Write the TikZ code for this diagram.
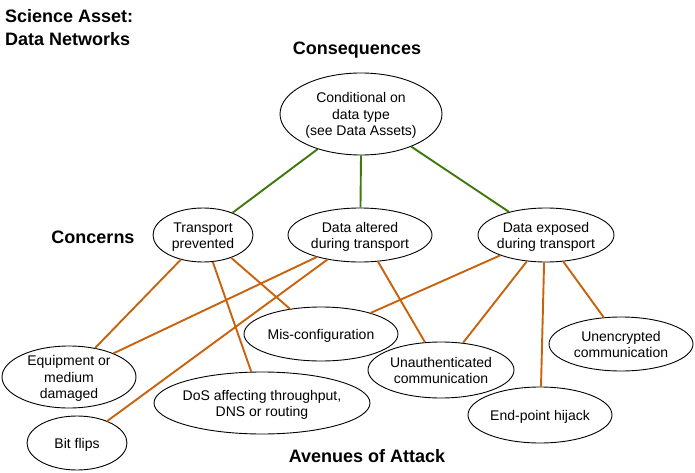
\documentclass[tikz,border=0pt]{standalone}
\usepackage{fontspec}
\setmainfont{Liberation Sans}
\usetikzlibrary{shapes.geometric}
\definecolor{linkgreen}{HTML}{3F780C}
\definecolor{linkorange}{HTML}{C8620C}
% centred multi-line text that does not enlarge its ellipse
\newcommand\elltext[1]{\raisebox{-5.5pt}[0pt][0pt]{\makebox[0pt]{\begin{tabular}{@{}c@{}}#1\end{tabular}}}}
\tikzset{
  item/.style={draw=black, line width=0.9pt, ellipse, inner sep=0pt, fill=white,
    font=\fontsize{14}{16.3}\selectfont},
  heading/.style={font=\fontsize{18}{23}\selectfont\bfseries, inner sep=0pt},
  cons/.style={draw=linkgreen, line width=1.9pt},
  atk/.style={draw=linkorange, line width=1.9pt},
}
\begin{document}
\begin{tikzpicture}[x=1pt, y=-1pt]
\useasboundingbox (0,0) rectangle (695,473);

% headings
\node[heading, anchor=base west] (t1) at (5,23) {Science Asset:};
\node[heading, anchor=base west] (t2) at (5,46) {Data Networks};
\node[heading, anchor=base] (hcons) at (357,55) {Consequences};
\node[heading, anchor=base] (hconc) at (93,243) {Concerns};
\node[heading, anchor=base] (hatk) at (367,462) {Avenues of Attack};

% consequence
\node[item, minimum width=162pt, minimum height=82pt] (cond) at (361,114)
  {\elltext{Conditional on\\data type\\(see Data Assets)}};

% concerns
\node[item, minimum width=100pt, minimum height=54pt] (tp) at (203,235)
  {\elltext{Transport\\prevented}};
\node[item, minimum width=144pt, minimum height=54pt] (da) at (360,235)
  {\elltext{Data altered\\during transport}};
\node[item, minimum width=136pt, minimum height=54pt] (de) at (546,235)
  {\elltext{Data exposed\\during transport}};

% avenues of attack
\node[item, minimum width=154pt, minimum height=54pt] (mis) at (321,334)
  {\elltext{Mis-configuration}};
\node[item, minimum width=134pt, minimum height=62pt] (eq) at (69,377)
  {\elltext{Equipment or\\medium\\damaged}};
\node[item, minimum width=216pt, minimum height=62pt] (dos) at (262,403)
  {\elltext{DoS affecting throughput,\\DNS or routing}};
\node[item, minimum width=100pt, minimum height=54pt] (bit) at (77,443)
  {\elltext{Bit flips}};
\node[item, minimum width=146pt, minimum height=56pt] (una) at (441,370)
  {\elltext{Unauthenticated\\communication}};
\node[item, minimum width=144pt, minimum height=56pt] (hij) at (540,415)
  {\elltext{End-point hijack}};
\node[item, minimum width=144pt, minimum height=54pt] (unc) at (621,344)
  {\elltext{Unencrypted\\communication}};

% consequence links
\draw[cons] (cond.-141.5) -- (tp.37);
\draw[cons] (cond.-90) -- (da.89);
\draw[cons] (cond.-33) -- (de.148);

% attack links
\draw[atk] (tp.-132.5) -- (eq.48);
\draw[atk] (tp.-70) -- (dos.109);
\draw[atk] (tp.-39.4) -- (mis.141.3);
\draw[atk] (da.-153.4) -- (eq.28);
\draw[atk] (da.-143.1) -- (bit.36.3);
\draw[atk] (da.-56.8) -- (una.120);
\draw[atk] (de.-156.5) -- (mis.23.6);
\draw[atk] (de.-126.5) -- (una.51);
\draw[atk] (de.-94.2) -- (hij.88);
\draw[atk] (de.-57.8) -- (unc.123.2);
\end{tikzpicture}
\end{document}
